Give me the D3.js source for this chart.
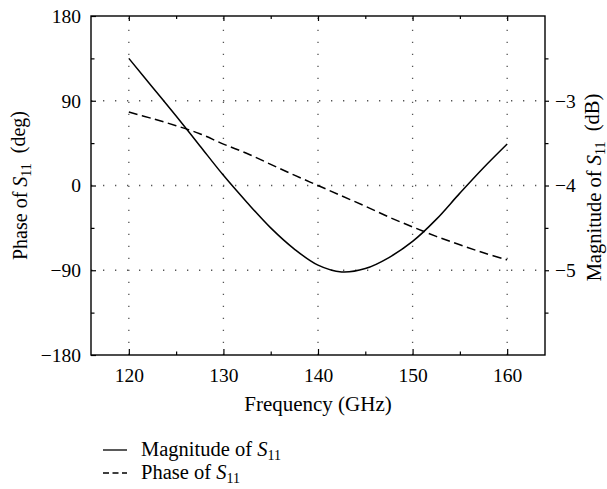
<!DOCTYPE html>
<html>
<head>
    <meta charset="utf-8">
    <title>S11 magnitude and phase</title>
    <script src="https://cdn.jsdelivr.net/npm/d3@7"></script>
    <style>
        body{ margin:0; background:#fff; }
        svg{ display:block; }
        svg text{ font-family:"Liberation Serif","DejaVu Serif",serif !important; }
        .grid line{ stroke:#555; stroke-width:1.3; stroke-dasharray:1.3,10.7; }
    </style>
</head>
<body>
<svg width="607" height="489"></svg>
<script>
// frequency points (GHz)
var freq = [120, 122.5, 125, 127.5, 130, 132.5, 135, 137.5, 140, 142.5, 145, 147.5, 150, 152.5, 155, 157.5, 160];
// magnitude of S11 (dB), right axis
var magnitude = [-2.50, -2.84, -3.18, -3.53, -3.88, -4.20, -4.50, -4.75, -4.94, -5.02, -4.98, -4.85, -4.66, -4.40, -4.09, -3.79, -3.51];
// phase of S11 (deg), left axis
var phase = [78, 71, 63.5, 55, 44, 34, 22.5, 11, 0, -11, -22, -33.5, -44, -54, -63, -71.5, -79];

var xTicks = [120, 130, 140, 150, 160];
var xMinor = [125, 135, 145, 155];
var phaseTicks = [-180, -90, 0, 90, 180];
var phaseMinor = [-135, -45, 45, 135];
var magTicks = [-5, -4, -3];
var magMinor = [-5.5, -4.5, -3.5, -2.5];
var legendNames = ["Magnitude of ", "Phase of "];

var serif = "'Liberation Serif','DejaVu Serif',serif";
var svg = d3.select("svg").attr("font-family", serif);
var pl = 91, pr = 545, pt = 16, pb = 355;   // plot box

var x = d3.scaleLinear().domain([116, 164]).range([pl, pr]);
var yP = d3.scaleLinear().domain([-180, 180]).range([pb, pt]);
var yM = d3.scaleLinear().domain([-6, -2]).range([pb, pt]);

// dotted grid
var grid = svg.append("g").attr("class", "grid");
grid.selectAll(".gx").data(xTicks).enter().append("line")
    .attr("x1", d => x(d)).attr("x2", d => x(d))
    .attr("y1", pb).attr("y2", pt);
grid.selectAll(".gy").data([-90, 0, 90]).enter().append("line")
    .attr("x1", pl).attr("x2", pr)
    .attr("y1", d => yP(d)).attr("y2", d => yP(d));

// axes
function ax(gen, tx, ty) {
    var g = svg.append("g").attr("transform", "translate(" + tx + "," + ty + ")").call(gen);
    g.attr("font-family", serif).attr("font-size", null);
    g.select(".domain").remove();
    g.selectAll("line").attr("stroke", "#000").attr("stroke-width", 1.2);
    g.selectAll("text").attr("fill", "#000").style("font-family", serif).style("font-size", "19.5px");
    return g;
}
var fmt = d3.format("d");
ax(d3.axisBottom(x).tickValues(xTicks).tickSize(-6).tickPadding(13), 0, pb);
ax(d3.axisBottom(x).tickValues(xMinor).tickSize(-3.5).tickFormat(""), 0, pb);
ax(d3.axisTop(x).tickValues(xTicks).tickSize(-5).tickFormat(""), 0, pt);
ax(d3.axisTop(x).tickValues(xMinor).tickSize(-3).tickFormat(""), 0, pt);
ax(d3.axisLeft(yP).tickValues(phaseTicks).tickSize(-5).tickPadding(10).tickFormat(fmt), pl, 0);
ax(d3.axisLeft(yP).tickValues(phaseMinor).tickSize(-3.5).tickFormat(""), pl, 0);
ax(d3.axisRight(yM).tickValues(magTicks).tickSize(4).tickPadding(6).tickFormat(fmt), pr, 0);
ax(d3.axisRight(yM).tickValues(magMinor).tickSize(3.5).tickFormat(""), pr, 0);

// frame
svg.append("rect")
    .attr("x", pl).attr("y", pt)
    .attr("width", pr - pl).attr("height", pb - pt)
    .attr("fill", "none").attr("stroke", "#000").attr("stroke-width", 1.4);

// curves
var magLine = d3.line().x((d, i) => x(freq[i])).y(d => yM(d)).curve(d3.curveCatmullRom.alpha(0.5));
var phaseLine = d3.line().x((d, i) => x(freq[i])).y(d => yP(d)).curve(d3.curveCatmullRom.alpha(0.5));

svg.append("path").datum(magnitude).attr("d", magLine)
    .attr("fill", "none").attr("stroke", "#000").attr("stroke-width", 1.5);
svg.append("path").datum(phase).attr("d", phaseLine)
    .attr("fill", "none").attr("stroke", "#000").attr("stroke-width", 1.5)
    .attr("stroke-dasharray", "9,4.5");

// label with italic S and subscript 11
function sLabel(t, before, after) {
    t.append("tspan").text(before);
    t.append("tspan").style("font-style", "italic").text("S");
    t.append("tspan").attr("dy", "0.3em").style("font-size", "14px").text("11");
    if (after) t.append("tspan").attr("dy", "-0.3em").text(after);
}

svg.append("text")
    .attr("x", (pl + pr) / 2).attr("y", 411)
    .attr("text-anchor", "middle").style("font-size", "21px")
    .text("Frequency (GHz)");

var lt = svg.append("text")
    .attr("transform", "translate(27," + (pt + pb) / 2 + ") rotate(-90)")
    .attr("text-anchor", "middle").style("font-size", "20px");
sLabel(lt, "Phase of ", "\u00a0\u00a0(deg)");

var rt = svg.append("text")
    .attr("transform", "translate(601," + (pt + pb + 4) / 2 + ") rotate(-90)")
    .attr("text-anchor", "middle").style("font-size", "20.5px");
sLabel(rt, "Magnitude of ", "\u00a0\u00a0(dB)");

// legend
var legend = svg.selectAll(".legend").data(legendNames).enter().append("g")
    .attr("transform", (d, i) => "translate(103," + (450 + i * 23) + ")");
legend.append("line")
    .attr("x1", 0).attr("x2", 24).attr("y1", 0).attr("y2", 0)
    .attr("stroke", "#000").attr("stroke-width", 1.3)
    .attr("stroke-dasharray", (d, i) => i ? "6,3.5" : null);
legend.append("text")
    .attr("x", 38).attr("y", 6).style("font-size", "20.5px")
    .each(function(d) { sLabel(d3.select(this), d); });
</script>
</body>
</html>
